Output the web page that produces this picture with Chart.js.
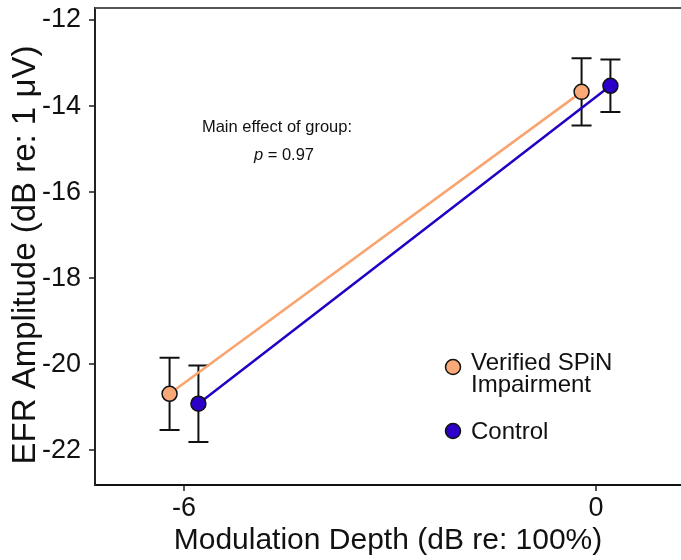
<!DOCTYPE html>
<html><head><meta charset="utf-8">
<script src="https://cdn.jsdelivr.net/npm/chart.js@4.4.1/dist/chart.umd.min.js"></script>
<style>html,body{margin:0;padding:0;background:#fff;overflow:hidden}canvas{display:block}</style>
</head><body>
<canvas id="c" width="681" height="560"></canvas>
<script>
// ---- data ----
const depths = [-6, 0];
const xTicks = [-6, 0];
const yTicks = [-22, -20, -18, -16, -14, -12];
const groupNames = ['Verified SPiN Impairment', 'Control'];
const legendLines = [['Verified SPiN', 'Impairment'], ['Control']];
const spinMean = [-20.69, -13.67];
const spinErr = [0.84, 0.78];
const controlMean = [-20.92, -13.53];
const controlErr = [0.89, 0.61];
const annotationTitle = 'Main effect of group:';
const annotationP = '0.97';
const xTitle = 'Modulation Depth (dB re: 100%)';
const yTitle = 'EFR Amplitude (dB re: 1 \u03BCV)';

// ---- styles ----
const FONT = "'Liberation Sans', Arial, sans-serif";
const ORANGE = '#F9A878';
const ORANGE_LINE = '#F9A46F';
const BLUE = '#2C00C8';
const BLUE_LINE = '#2400C4';
const DODGE = [-0.21, 0.21];

const series = [
  {name: groupNames[0], mean: spinMean, err: spinErr, dodge: DODGE[0], fill: ORANGE, line: ORANGE_LINE},
  {name: groupNames[1], mean: controlMean, err: controlErr, dodge: DODGE[1], fill: BLUE, line: BLUE_LINE}
];

const pts = s => depths.map((d, i) => ({x: d + s.dodge, y: s.mean[i]}));

const datasets = [];
series.forEach((s, k) => {
  datasets.push({label: s.name, data: pts(s), showLine: false, pointRadius: 7.5, pointHoverRadius: 7.5,
    pointBackgroundColor: s.fill, pointBorderColor: '#111', pointBorderWidth: 1.5, order: k});
});
series.forEach((s, k) => {
  datasets.push({label: s.name + ' line', data: pts(s), showLine: true, pointRadius: 0, borderColor: s.line,
    borderWidth: 2.5, fill: false, order: 2 + k});
});

const errorBars = {
  id: 'errorBars',
  beforeDatasetsDraw(chart) {
    const {ctx, scales: {x, y}} = chart;
    ctx.save();
    ctx.strokeStyle = '#111';
    ctx.lineWidth = 2;
    series.forEach(s => {
      s.mean.forEach((m, i) => {
        const px = x.getPixelForValue(depths[i] + s.dodge);
        const t = y.getPixelForValue(m + s.err[i]);
        const b = y.getPixelForValue(m - s.err[i]);
        ctx.beginPath();
        ctx.moveTo(px, t); ctx.lineTo(px, b);
        ctx.moveTo(px - 10, t); ctx.lineTo(px + 10, t);
        ctx.moveTo(px - 10, b); ctx.lineTo(px + 10, b);
        ctx.stroke();
      });
    });
    ctx.restore();
  }
};

const decorations = {
  id: 'decorations',
  afterDraw(chart) {
    const {ctx, chartArea: a} = chart;
    ctx.save();
    // top frame line
    ctx.strokeStyle = '#555';
    ctx.lineWidth = 2;
    ctx.beginPath();
    ctx.moveTo(a.left, a.top); ctx.lineTo(a.right, a.top);
    ctx.stroke();
    // y axis title
    ctx.fillStyle = '#111';
    ctx.save();
    ctx.translate(26, 255);
    ctx.rotate(-Math.PI / 2);
    ctx.textAlign = 'center';
    ctx.textBaseline = 'middle';
    ctx.font = '33px ' + FONT;
    ctx.fillText(yTitle, 0, 0);
    ctx.restore();
    // annotation
    const AF = 16.5;
    ctx.textBaseline = 'middle';
    ctx.font = AF + 'px ' + FONT;
    ctx.textAlign = 'center';
    ctx.fillText(annotationTitle, 277, 127);
    ctx.textAlign = 'left';
    const pPart = 'p';
    const rest = ' = ' + annotationP;
    ctx.font = 'italic ' + AF + 'px ' + FONT;
    const wp = ctx.measureText(pPart).width;
    ctx.font = AF + 'px ' + FONT;
    const wr = ctx.measureText(rest).width;
    const sx = 284 - (wp + wr) / 2;
    ctx.font = 'italic ' + AF + 'px ' + FONT;
    ctx.fillText(pPart, sx, 155);
    ctx.font = AF + 'px ' + FONT;
    ctx.fillText(rest, sx + wp, 155);
    // legend
    const legY = [367, 431];
    const textY = [[363, 385], [432]];
    series.forEach((s, k) => {
      ctx.beginPath();
      ctx.arc(453, legY[k], 7.5, 0, Math.PI * 2);
      ctx.fillStyle = s.fill;
      ctx.fill();
      ctx.lineWidth = 1.5;
      ctx.strokeStyle = '#111';
      ctx.stroke();
      ctx.fillStyle = '#111';
      ctx.font = '24px ' + FONT;
      ctx.textAlign = 'left';
      legendLines[k].forEach((ln, j) => ctx.fillText(ln, 471, textY[k][j]));
    });
    ctx.restore();
  }
};

new Chart(document.getElementById('c'), {
  type: 'scatter',
  data: {datasets},
  options: {
    responsive: false,
    devicePixelRatio: 1,
    animation: false,
    layout: {autoPadding: false, padding: {top: 8, right: 0, left: 0, bottom: 0}},
    plugins: {legend: {display: false}, tooltip: {enabled: false}},
    scales: {
      x: {
        type: 'linear', min: -7.296, max: 1.238,
        afterBuildTicks: sc => { sc.ticks = xTicks.map(v => ({value: v})); },
        afterFit: sc => { sc.height = 75; sc.paddingLeft = 0; sc.paddingRight = 0; },
        grid: {drawOnChartArea: false, drawTicks: true, tickLength: 6, color: '#555', lineWidth: 2},
        border: {display: true, color: '#111', width: 2},
        ticks: {color: '#111', font: {family: FONT, size: 27}, padding: 1, maxRotation: 0,
          callback: v => String(v)},
        title: {display: true, text: xTitle, color: '#111', font: {family: FONT, size: 30, lineHeight: 1.2},
          padding: {top: 0, bottom: 1}}
      },
      y: {
        type: 'linear', min: -22.81, max: -11.72,
        afterBuildTicks: sc => { sc.ticks = yTicks.map(v => ({value: v})); },
        afterFit: sc => { sc.width = 95; sc.paddingTop = 0; sc.paddingBottom = 0; },
        grid: {drawOnChartArea: false, drawTicks: true, tickLength: 6, color: '#555', lineWidth: 2},
        border: {display: true, color: '#222', width: 2},
        ticks: {color: '#111', font: {family: FONT, size: 27}, padding: 8,
          callback: v => String(v)},
        title: {display: false}
      }
    }
  },
  plugins: [errorBars, decorations]
});
</script>
</body></html>
